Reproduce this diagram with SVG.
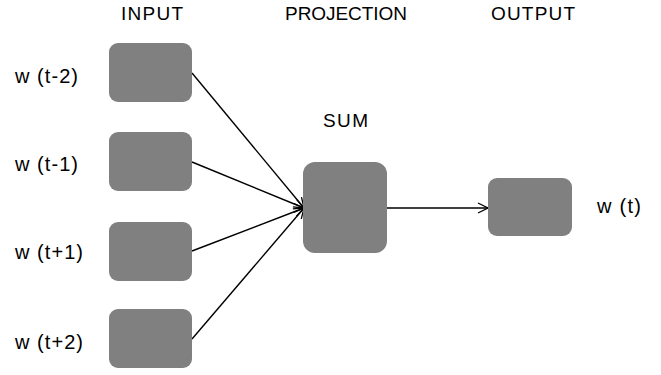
<svg xmlns="http://www.w3.org/2000/svg" width="661" height="375" viewBox="0 0 661 375">
<defs>
<marker id="arr" viewBox="0 0 12 12" refX="11" refY="6" markerWidth="12" markerHeight="12" markerUnits="userSpaceOnUse" orient="auto">
<path d="M1,1 L11,6 L1,11" fill="none" stroke="#000" stroke-width="1.3"/>
</marker>
<style>
.box{fill:#808080;}
.t{font-family:"Liberation Sans",Arial,sans-serif;font-size:19px;fill:#000;}
.l{font-family:"Liberation Sans",Arial,sans-serif;font-size:20px;fill:#000;}
.c{stroke:#000;stroke-width:1.4;fill:none;marker-end:url(#arr);}
</style>
</defs>
<rect width="661" height="375" fill="#fff"/>
<g id="headers">
<text class="t" x="121" y="20" textLength="62">INPUT</text>
<text class="t" x="285" y="20" textLength="122">PROJECTION</text>
<text class="t" x="491" y="20" textLength="84">OUTPUT</text>
</g>
<g id="connectors">
<line class="c" x1="192" y1="73" x2="304" y2="208"/>
<line class="c" x1="192" y1="162" x2="304" y2="208"/>
<line class="c" x1="192" y1="251" x2="304" y2="208"/>
<line class="c" x1="192" y1="339" x2="304" y2="208"/>
<line class="c" x1="387" y1="208" x2="488" y2="208"/>
</g>
<g id="in1"><rect class="box" x="109" y="43" width="83" height="59" rx="9"/><text class="l" x="15" y="83" textLength="63">w (t-2)</text></g>
<g id="in2"><rect class="box" x="109" y="132" width="83" height="59" rx="9"/><text class="l" x="15" y="171" textLength="63">w (t-1)</text></g>
<g id="in3"><rect class="box" x="109" y="222" width="83" height="59" rx="9"/><text class="l" x="15" y="259" textLength="68">w (t+1)</text></g>
<g id="in4"><rect class="box" x="109" y="309" width="83" height="59" rx="9"/><text class="l" x="15" y="349" textLength="68">w (t+2)</text></g>
<g id="sum"><rect class="box" x="303" y="162" width="84" height="91" rx="12"/><text class="t" x="323" y="127" textLength="45">SUM</text></g>
<g id="out"><rect class="box" x="488" y="178" width="84" height="58" rx="9"/><text class="l" x="597" y="213" textLength="44">w (t)</text></g>
</svg>
